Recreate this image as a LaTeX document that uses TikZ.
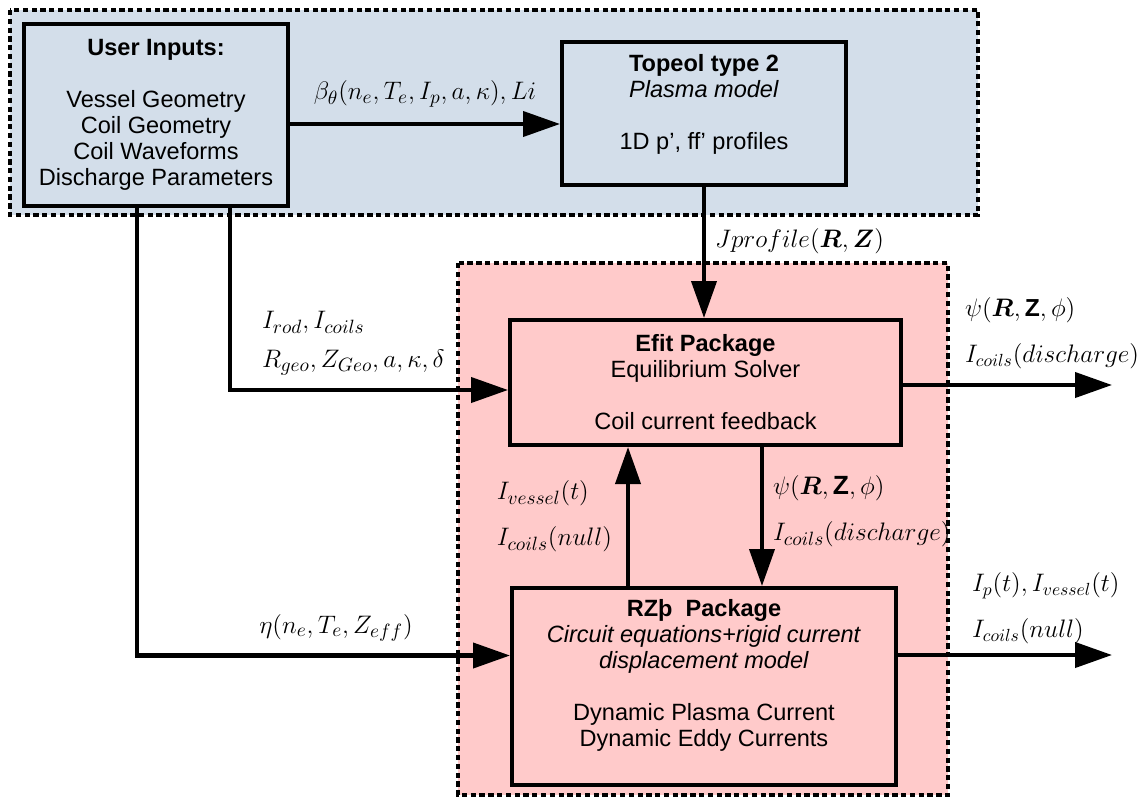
\documentclass[tikz,border=0pt]{standalone}
\usepackage{fontspec}
\setmainfont{Liberation Sans}
\usepackage{amsmath}
\usepackage{tikz}
\usetikzlibrary{arrows.meta}
\usetikzlibrary{positioning}
\usetikzlibrary{calc}

\definecolor{inputblue}{HTML}{D3DEEA}
\definecolor{solverpink}{HTML}{FFCACA}

\tikzset{
    zone/.style={line width=2pt, dash pattern=on 3pt off 2pt},
    flow/.style={draw=black, line width=2.3pt, -{Triangle[length=0.74cm, width=0.5cm]}},
    mathlbl/.style={font=\fontsize{15}{22}\selectfont, align=left, inner sep=0.18cm}
}

\begin{document}
\begin{tikzpicture}[x=0.02cm, y=-0.02cm]
    \useasboundingbox (0,0) rectangle (1142,798);
    % dashed zones
    \draw[zone, fill=inputblue] (10,10) rectangle (978,215);
    \draw[zone, fill=solverpink] (458,263) rectangle (948,795);

    \begin{scope}[every node/.style={draw, line width=2.3pt, align=center, font=\fontsize{13.4}{14.8}\selectfont}]
    \node[fill=inputblue, minimum width=5.28cm, minimum height=3.64cm] (user) at (156,115)
        {\textbf{User Inputs:}\\[14.8pt] Vessel Geometry\\ Coil Geometry\\ Coil Waveforms\\ Discharge Parameters};
    \node[fill=inputblue, minimum width=5.68cm, minimum height=2.86cm, text depth=0.45cm] (topeol) at (704,113.5)
        {\textbf{Topeol type 2}\\ \textit{Plasma model}\\[14.8pt] 1D p', ff' profiles};
    \node[fill=solverpink, minimum width=7.82cm, minimum height=2.5cm] (efit) at (705.5,382.5)
        {\textbf{Efit Package}\\ Equilibrium Solver\\[14.8pt] Coil current feedback};
    \node[fill=solverpink, minimum width=7.68cm, minimum height=3.94cm, text depth=0.55cm] (rz) at (704,686.5)
        {\textbf{RZþ\ \ Package}\\ \textit{Circuit equations+rigid current}\\ \textit{displacement model}\\[14.8pt]
         Dynamic Plasma Current\\ Dynamic Eddy Currents};
    \end{scope}

    \coordinate (geoout) at ([xshift=1.48cm]user.south);
    \coordinate (etaout) at ([xshift=-0.38cm]user.south);
    \coordinate (psiout) at (1112,385);
    \coordinate (ipout) at (1112,655);

    \begin{scope}[every node/.style={mathlbl}]
    \path ([yshift=-0.18cm]user.east) edge[flow] node[midway, above=0.12cm]
        {$\beta_\theta(n_e, T_e, I_p, a, \kappa), Li$} ([yshift=-0.18cm]user.east -| topeol.west);
    \path (topeol.south) edge[flow] node[pos=0.41, right=0cm]
        {$Jprofile(\boldsymbol{R}, \boldsymbol{Z})$} (topeol.south |- efit.north);
    \draw[flow] (geoout) |- node[pos=0.5, above right=0.08cm and 0.42cm]
        {$I_{rod}, I_{coils}$\\ $R_{geo}, Z_{Geo}, a, \kappa, \delta$} ([yshift=-0.15cm]efit.west);
    \draw[flow] (etaout) |- node[pos=0.75, above=0.06cm, xshift=0.25cm]
        {$\eta(n_e, T_e, Z_{eff})$} ([yshift=0.62cm]rz.west);
    \path ([xshift=-1.52cm]rz.north) edge[flow] node[midway, left=0.1cm]
        {$I_{vessel}(t)$\\[4pt] $I_{coils}(null)$} ([xshift=-1.52cm]rz.north |- efit.south);
    \path ([xshift=1.13cm]efit.south) edge[flow] node[midway, right=0cm, yshift=0.1cm]
        {$\psi(\boldsymbol{R}, \mathbf{Z}, \phi)$\\[4pt] $I_{coils}(discharge)$} ([xshift=1.13cm]efit.south |- rz.north);
    \path (efit.east |- psiout) edge[flow] node[pos=0, above right=0.1cm and 1.02cm, font=\fontsize{14}{22}\selectfont]
        {$\psi(\boldsymbol{R}, \mathbf{Z}, \phi)$\\[4pt] $I_{coils}(discharge)$} (psiout);
    \path (rz.east |- ipout) edge[flow] node[pos=0, above right=0cm and 1.26cm, font=\fontsize{14}{22}\selectfont]
        {$I_p(t), I_{vessel}(t)$\\[4pt] $I_{coils}(null)$} (ipout);
    \end{scope}
\end{tikzpicture}
\end{document}
